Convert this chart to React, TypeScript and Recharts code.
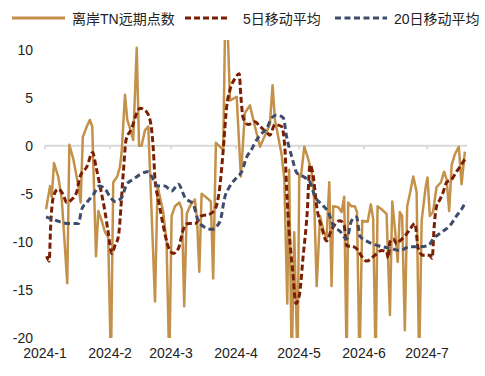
import { LineChart, Line, XAxis, YAxis, Legend, ReferenceLine } from 'recharts';

// x positions are days counted from 2024-01-01
const tnDays = [
    0.5, 2.4, 3.2, 4.3, 6.3, 8.0, 10.6, 11.6, 13.5, 15.9,
    17.0, 18.0, 19.9, 21.4, 22.5, 24.3, 25.4, 27.0, 28.6, 30.1,
    31.4, 32.5, 34.4, 35.7, 36.5, 38.1, 39.2, 40.5, 42.0, 43.7,
    44.8, 46.0, 47.6, 49.2, 52.4, 53.6, 56.3, 57.9, 59.2, 60.3,
    61.9, 64.0, 65.2, 66.3, 67.5, 69.0, 71.4, 72.4, 73.5, 74.6,
    77.0, 79.0, 80.1, 81.4, 83.3, 84.9, 85.7, 87.1, 88.1, 91.3,
    93.3, 95.2, 97.6, 100.0, 102.4, 104.8, 107.1, 108.4, 109.5, 111.1,
    112.7, 114.0, 115.4, 116.3, 117.5, 118.7, 120.3, 121.1, 121.9, 123.5,
    125.4, 127.0, 128.2, 129.4, 131.0, 132.5, 134.1, 135.4, 136.5, 137.3,
    139.7, 141.3, 142.5, 143.7, 144.4, 146.0, 147.6, 148.6, 149.8, 151.1,
    153.7, 155.2, 156.3, 157.5, 158.4, 160.3, 162.7, 164.3, 165.4, 166.7,
    168.0, 169.0, 170.1, 171.4, 172.5, 173.8, 175.4, 177.0, 178.2, 179.4,
    181.3, 182.2, 183.3, 184.8, 186.5, 188.6, 190.1, 191.3, 192.5, 193.7,
    195.2, 197.1, 198.4, 200.0,
];
const tnValues = [
    -6.6, -4.2, -5.3, -1.8, -3.2, -5.6, -14.3, 0.1, -1.4, -4.2,
    -5.9, 0.9, 2.0, 2.7, 2.0, -11.5, -6.8, -7.8, -9.0, -9.5,
    -23, -3.8, -3.2, -2.2, -0.7, 5.3, 2.7, 1.8, 0.6, 10.2,
    0, 0, 1.6, 2.0, -16.2, -4.2, -6.9, -10.0, -23, -7.3,
    -6.3, -5.9, -6.6, -16.7, -7.1, -6.3, -5.6, -7.6, -13.1, -5.0,
    -5.4, -5.8, -13.8, 0.3, -0.1, -0.4, 11.5, 11.5, 4.7, 5.1,
    -3.2, 3.4, 4.2, 2.0, -0.1, 1.1, 2.2, 6.3, 2.7, 0.9,
    -0.9, -3.5, -16.4, -2.5, -23, -9, -23, -3.0, -3.2, -0.1,
    -1.4, -2.8, -5.6, -14.6, -7.3, -8.7, -9.7, -3.8, -14.6, -6.3,
    -6.4, -6.9, -5.3, -23, -5.9, -6.3, -6.3, -6.9, -23, -7.8,
    -7.9, -6.1, -7.6, -23, -6.3, -6.6, -7.1, -17.6, -5.8, -8.7,
    -12.1, -6.9, -7.3, -19.2, -6.3, -5.0, -3.2, -4.8, -23, -7.8,
    -4.3, -3.3, -7.3, -6.9, -4.3, -3.8, -2.7, -3.5, -6.8, -2.0,
    -0.9, -0.1, -4.0, -0.6,
];

const ma5Days = [
    0.8, 2.0, 2.7, 4.0, 6.3, 8.7, 10.3, 12.7, 15.1, 16.7,
    19.9, 22.7, 24.3, 26.2, 28.6, 30.1, 31.8, 33.3, 34.9, 37.3,
    38.6, 41.3, 43.7, 45.2, 47.6, 50.0, 51.6, 52.4, 54.0, 56.3,
    58.7, 61.1, 63.5, 65.9, 68.2, 71.4, 74.6, 78.6, 81.0, 83.3,
    84.9, 86.5, 88.1, 90.5, 92.5, 93.3, 94.4, 96.8, 100.0, 102.4,
    105.6, 107.1, 109.5, 112.7, 114.3, 115.1, 116.3, 118.0, 119.5, 121.1,
    123.0, 124.9, 126.2, 127.8, 129.4, 131.8, 134.1, 136.5, 140.5, 142.5,
    143.7, 146.8, 149.2, 150.8, 153.2, 157.1, 160.3, 162.7, 163.5, 164.3,
    165.9, 167.5, 169.0, 171.4, 173.8, 176.2, 177.8, 180.1, 183.3, 184.4,
    185.4, 186.5, 188.1, 189.7, 191.3, 193.7, 196.0, 197.6, 200.0,
];
const ma5Values = [
    -11.5, -12.0, -8.3, -5.3, -4.5, -5.1, -5.9, -5.6, -4.8, -3.2,
    -2.2, -0.7, -2.2, -4.2, -6.9, -9.0, -11.2, -10.4, -9.5, -2.8,
    0.6, 1.8, 3.4, 3.9, 3.7, 2.7, -0.4, -3.5, -5.6, -8.3,
    -10.5, -11.2, -10.7, -8.7, -8.1, -8.1, -7.3, -7.1, -6.6, -4.2,
    -0.4, 4.0, 5.8, 7.0, 7.5, 5.1, 2.9, 2.2, 2.5, 2.0,
    1.4, 1.1, 2.2, 2.0, -0.4, -4.5, -9.0, -13.1, -16.4, -15.6,
    -11.4, -6.9, -2.0, -3.2, -6.3, -8.5, -9.9, -8.7, -7.8, -8.3,
    -10.4, -10.5, -10.9, -11.5, -12.0, -11.4, -10.9, -11.0, -11.7, -10.0,
    -9.7, -10.2, -9.9, -9.4, -8.7, -8.1, -10.7, -11.4, -11.4, -11.7,
    -8.3, -6.3, -5.6, -4.8, -3.8, -3.5, -2.7, -2.2, -1.4,
];

const ma20Days = [
    0.5, 5.6, 11.1, 15.9, 17.5, 19.9, 23.0, 25.9, 28.6, 31.0,
    33.3, 36.5, 38.9, 42.0, 45.2, 49.2, 50.8, 54.0, 57.1, 60.3,
    63.5, 66.7, 70.6, 73.0, 76.2, 79.4, 83.3, 85.7, 88.1, 91.3,
    93.7, 96.0, 98.4, 100.0, 102.4, 105.6, 108.0, 110.3, 113.5, 115.1,
    117.5, 119.9, 123.0, 126.2, 128.6, 131.8, 134.9, 137.3, 140.5, 143.7,
    146.0, 148.4, 150.0, 153.9, 158.7, 165.1, 169.0, 173.8, 178.6, 182.5,
    184.9, 188.9, 192.9, 196.0, 198.4, 200.5,
];
const ma20Values = [
    -7.4, -7.8, -8.1, -8.1, -6.6, -5.9, -5.1, -4.2, -4.5, -5.3,
    -5.8, -5.4, -4.0, -3.5, -3.0, -2.7, -3.2, -4.2, -4.2, -4.7,
    -4.0, -5.4, -6.1, -7.8, -8.5, -8.7, -7.9, -5.3, -4.2, -3.3,
    -2.7, -1.2, -0.4, 0.3, 1.1, 1.8, 2.9, 3.2, 2.9, 0.9,
    -1.1, -2.8, -3.2, -3.8, -5.3, -6.1, -6.9, -8.3, -8.9, -9.7,
    -7.8, -7.4, -9.4, -10.0, -10.4, -10.7, -10.9, -10.5, -10.5, -10.4,
    -9.7, -9.0, -8.3, -7.3, -6.6, -5.8,
];

const monthTicks = [0, 31, 60, 91, 121, 152, 182];
const monthLabels = ['2024-1', '2024-2', '2024-3', '2024-4', '2024-5', '2024-6', '2024-7'];
const yTicks = [-20, -15, -10, -5, 0, 5, 10];

const seriesNames = ['离岸TN远期点数', '5日移动平均', '20日移动平均'];
const seriesColors = ['#C4914A', '#7A1E04', '#3E4C6C'];

const toPoints = (days: number[], values: number[]) => days.map((d, i) => ({ d, v: values[i] }));
const tnData = toPoints(tnDays, tnValues);
const ma5Data = toPoints(ma5Days, ma5Values);
const ma20Data = toPoints(ma20Days, ma20Values);

const FONT = '"Liberation Sans", Arial, "Noto Sans CJK SC", sans-serif';

const legendLayout = [
    { sx: 12, sw: 53, tx: 72, dash: undefined },
    { sx: 185, sw: 45, tx: 243, dash: '6 3' },
    { sx: 335, sw: 52, tx: 394, dash: '6 3.5' },
];

const renderLegend = () => (
    <div style={{ position: 'relative', width: 485, height: 40, fontFamily: FONT, fontSize: 14, color: '#222' }}>
        {legendLayout.map((l, i) => (
            <div key={i}>
                <svg style={{ position: 'absolute', left: l.sx, top: 16 }} width={l.sw} height={4}>
                    <line x1={0} y1={2} x2={l.sw} y2={2} stroke={seriesColors[i]} strokeWidth={3} strokeDasharray={l.dash} />
                </svg>
                <span style={{ position: 'absolute', left: l.tx, top: 10, lineHeight: '18px', whiteSpace: 'nowrap' }}>
                    {seriesNames[i]}
                </span>
            </div>
        ))}
    </div>
);

const App = (): JSX.Element => (
    <div style={{ width: 485, height: 376 }}>
        <style>{'body{margin:0}'}</style>
        <LineChart width={485} height={376} margin={{ top: 0, right: 18, left: 0, bottom: 0 }}>
            <XAxis
                dataKey="d"
                type="number"
                domain={[0, 201]}
                ticks={monthTicks}
                tickFormatter={(v: number) => monthLabels[monthTicks.indexOf(v)]}
                axisLine={false}
                tickLine={false}
                tickSize={0}
                tickMargin={10}
                height={38}
                allowDataOverflow
                tick={{ fill: '#222', fontSize: 14, fontFamily: FONT }}
            />
            <YAxis
                type="number"
                domain={[-20, 11]}
                ticks={yTicks}
                axisLine={false}
                tickLine={false}
                tickSize={0}
                tickMargin={12}
                width={45}
                allowDataOverflow
                tick={{ fill: '#222', fontSize: 14, fontFamily: FONT }}
            />
            <Legend verticalAlign="top" align="left" content={renderLegend} wrapperStyle={{ top: 0, left: 0, width: 485 }} />
            <ReferenceLine y={0} stroke="#D9D9D9" strokeWidth={2} />
            {monthTicks.map((m) => (
                <ReferenceLine key={m} segment={[{ x: m, y: 0 }, { x: m, y: -0.35 }]} stroke="#D9D9D9" strokeWidth={2} />
            ))}
            <Line data={tnData} dataKey="v" name={seriesNames[0]} type="linear" stroke={seriesColors[0]} strokeWidth={2.5}
                dot={false} activeDot={false} isAnimationActive={false} strokeLinejoin="round" />
            <Line data={ma5Data} dataKey="v" name={seriesNames[1]} type="monotone" stroke={seriesColors[1]} strokeWidth={3}
                strokeDasharray="6 3" dot={false} activeDot={false} isAnimationActive={false} />
            <Line data={ma20Data} dataKey="v" name={seriesNames[2]} type="monotone" stroke={seriesColors[2]} strokeWidth={3}
                strokeDasharray="6 3.5" dot={false} activeDot={false} isAnimationActive={false} />
        </LineChart>
    </div>
);

export default App;
